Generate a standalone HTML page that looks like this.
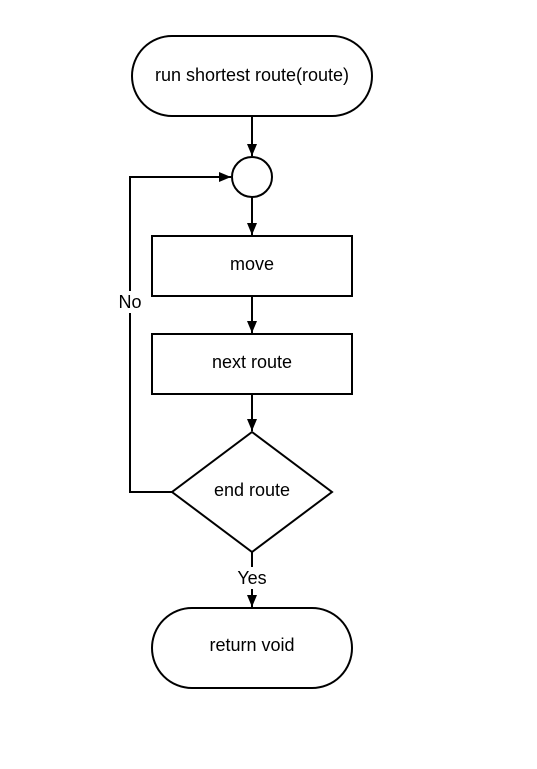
<!DOCTYPE html>
<html><head><style>html,body{margin:0;padding:0;background:#fff}</style></head>
<body>
<svg width="537" height="764" xmlns="http://www.w3.org/2000/svg" font-family="Liberation Sans, sans-serif" font-size="18">
<defs><marker id="a" markerWidth="14" markerHeight="14" refX="12" refY="5" orient="auto" markerUnits="userSpaceOnUse"><path d="M0,0 L12,5 L0,10 z" fill="#000"/></marker></defs>
<g fill="none" stroke="#000" stroke-width="2">
<rect x="132" y="36" width="240" height="80" rx="40"/>
<circle cx="252" cy="177" r="20"/>
<rect x="152" y="236" width="200" height="60"/>
<rect x="152" y="334" width="200" height="60"/>
<path d="M252,432 L332,492 L252,552 L172,492 Z"/>
<rect x="152" y="608" width="200" height="80" rx="40"/>
<line x1="252" y1="116" x2="252" y2="156" marker-end="url(#a)"/>
<line x1="252" y1="197" x2="252" y2="235" marker-end="url(#a)"/>
<line x1="252" y1="296" x2="252" y2="333" marker-end="url(#a)"/>
<line x1="252" y1="394" x2="252" y2="431" marker-end="url(#a)"/>
<line x1="252" y1="552" x2="252" y2="607" marker-end="url(#a)"/>
<polyline points="172,492 130,492 130,177 231,177" marker-end="url(#a)"/>
</g>
<rect x="232" y="567" width="40" height="22" fill="#fff"/>
<rect x="114" y="291" width="32" height="22" fill="#fff"/>
<g text-anchor="middle" fill="#000">
<text x="252" y="81">run shortest route(route)</text>
<text x="252" y="270">move</text>
<text x="252" y="368">next route</text>
<text x="252" y="496">end route</text>
<text x="252" y="651">return void</text>
<text x="252" y="584">Yes</text>
<text x="130" y="308">No</text>
</g>
</svg>
</body></html>
